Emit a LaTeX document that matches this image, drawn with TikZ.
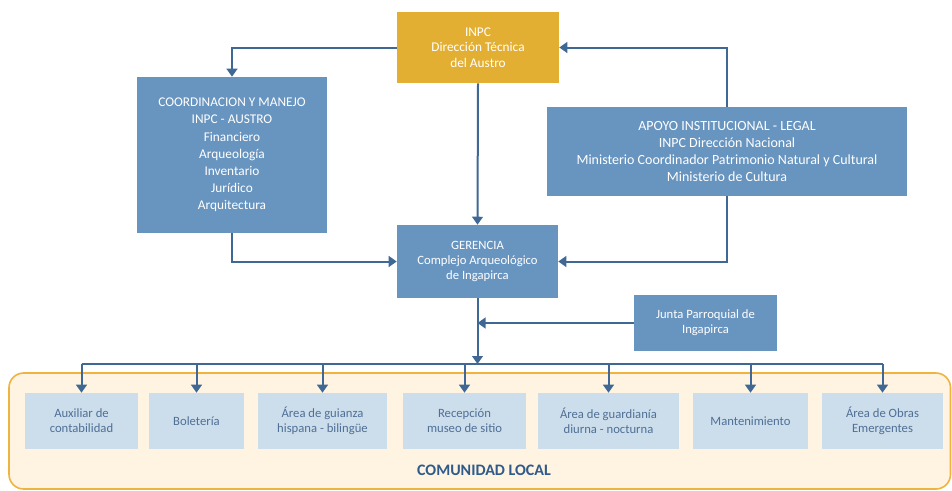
\documentclass[tikz,border=0pt]{standalone}
\usepackage{fontspec}
\setmainfont{Carlito}
\usetikzlibrary{arrows.meta}

\definecolor{inpcgold}{HTML}{E3AF32}
\definecolor{mainblue}{HTML}{6894C0}
\definecolor{arrowblue}{HTML}{3F6895}
\definecolor{unitblue}{HTML}{CCDEEC}
\definecolor{unittext}{HTML}{4F6F95}
\definecolor{comfill}{HTML}{FFF4E2}
\definecolor{comborder}{HTML}{EFB43F}
\definecolor{comtext}{HTML}{2F5A8A}

\begin{document}
\begin{tikzpicture}[
    x=0.75pt, y=-0.75pt,
    box/.style={rectangle, inner sep=0pt, align=center, text=white, font=\fontsize{9.5}{11.5}\selectfont},
    head box/.style={box, fill=inpcgold, font=\fontsize{10}{11.6}\selectfont},
    org box/.style={box, fill=mainblue},
    big box/.style={org box, font=\fontsize{10}{12.9}\selectfont},
    unit box/.style={box, fill=unitblue, text=unittext, minimum height=42pt, font=\fontsize{9.5}{11.3}\selectfont},
    flow/.style={draw=arrowblue, line width=1.5pt, -{Triangle[length=6pt, width=8pt]}},
    >=Triangle
]
\useasboundingbox (0,0) rectangle (952,490);

% Comunidad local
\draw[comborder, fill=comfill, line width=1.2pt, rounded corners=11pt] (9,373) rectangle (950.5,489);
\node[text=comtext, font=\fontsize{12}{14}\selectfont\bfseries] (comlabel) at (484,470) {COMUNIDAD LOCAL};

% Upper level
\node[head box, minimum width=121.5pt, minimum height=53.25pt] (inpc) at (478,47.5)
    {INPC\\Dirección Técnica\\del Austro};
\node[big box, minimum width=142.5pt, minimum height=117pt] (coord) at (232,155)
    {COORDINACION Y MANEJO\\INPC - AUSTRO\\Financiero\\Arqueología\\Inventario\\Jurídico\\Arquitectura};
\node[big box, minimum width=270pt, minimum height=66.75pt, font=\fontsize{10.5}{12.8}\selectfont] (apoyo) at (727,151.5)
    {APOYO INSTITUCIONAL - LEGAL\\INPC Dirección Nacional\\Ministerio Coordinador Patrimonio Natural y Cultural\\Ministerio de Cultura};
\node[org box, minimum width=120.75pt, minimum height=54.75pt] (gerencia) at (477.5,261.5)
    {GERENCIA\\Complejo Arqueológico\\de Ingapirca};
\node[org box, minimum width=107.25pt, minimum height=42pt] (junta) at (705.5,323)
    {Junta Parroquial de\\Ingapirca};

% Units
\foreach \cx/\w/\nm/\txt in {81.5/84.75/u1/{Auxiliar de\\contabilidad},
    196.5/71.25/u2/{Boletería},
    322.5/96.75/u3/{Área de guianza\\hispana - bilingüe},
    464.5/92.25/u4/{Recepción\\museo  de sitio},
    608.5/105.75/u5/{Área de guardianía\\diurna - nocturna},
    750.5/86.25/u6/{Mantenimiento},
    882.5/90.75/u7/{Área de Obras\\Emergentes}} {
    \node[unit box, minimum width=\w pt] (\nm) at (\cx,421) {\txt};
}

% Connections
\coordinate (bus) at (477.5,364);
\draw[flow] (inpc.west) -| (coord.north);
\draw[flow] (apoyo.north) |- (inpc.east);
\draw[flow] (inpc.south) -- (gerencia.north);
\draw[flow] (coord.south) |- (gerencia.west);
\draw[flow] (apoyo.south) |- (gerencia.east);
\draw[flow] (gerencia.south) -- (bus);
\draw[flow] (junta.west) -- (junta.west -| gerencia.south);
\draw[draw=arrowblue, line width=1.5pt] (u1.north |- bus) -- (u7.north |- bus);
\foreach \i in {1,...,7} {
    \draw[flow] (u\i.north |- bus) -- (u\i.north);
}

\end{tikzpicture}
\end{document}
